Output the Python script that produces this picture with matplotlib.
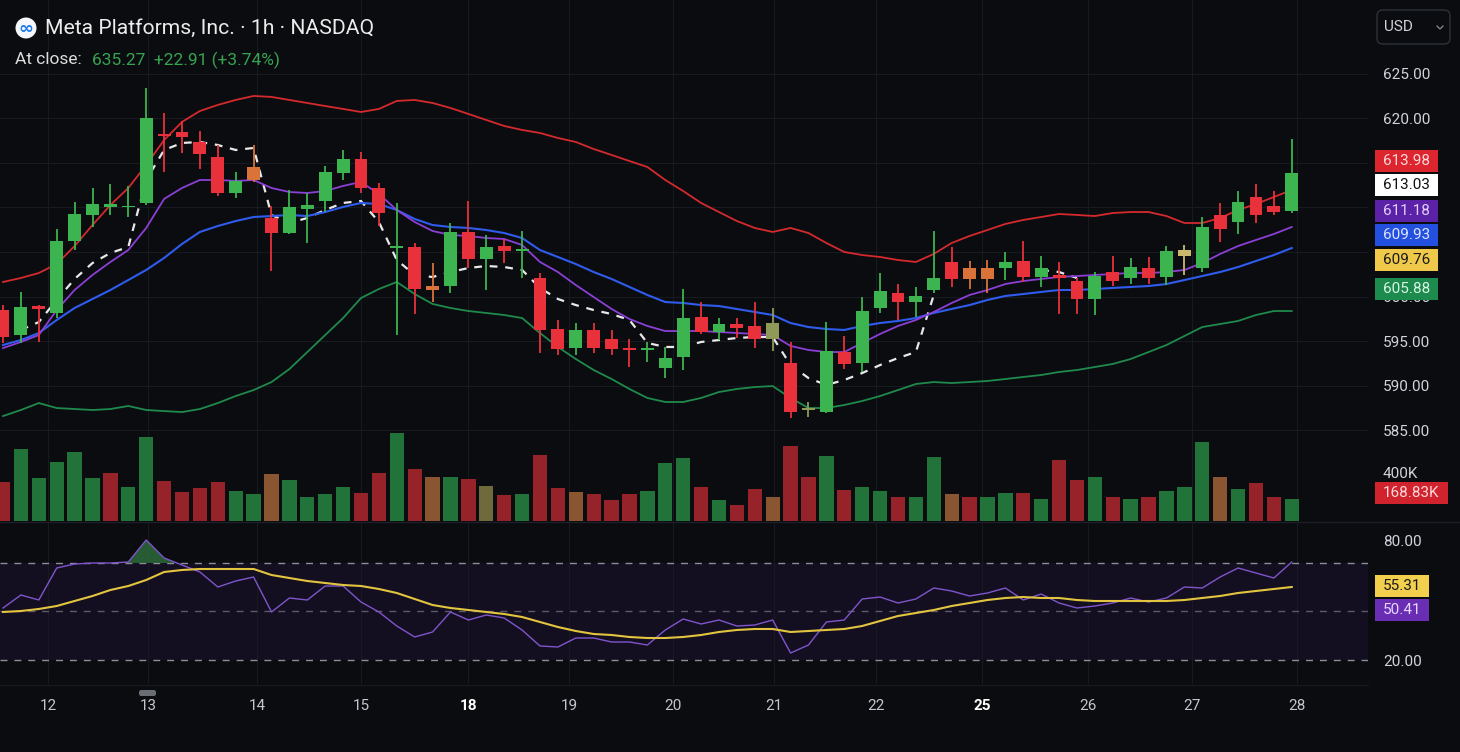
import numpy as np
import matplotlib
matplotlib.use("Agg")
import matplotlib.pyplot as plt
from matplotlib.patches import Rectangle, Ellipse, FancyBboxPatch
from matplotlib.lines import Line2D

plt.rcParams['font.family'] = ['Roboto', 'DejaVu Sans']

# ---------------- data ----------------
opens = [598.5, 595.7, 598.9, 598.1, 606.2, 609.2, 610.1, 610.0, 610.5, 618.3,
         618.5, 617.4, 615.7, 611.6, 614.5, 608.8, 607.1, 609.8, 610.7, 613.9,
         615.5, 612.2, 605.5, 605.6, 601.2, 601.2, 607.2, 604.2, 605.7, 605.1,
         602.1, 596.3, 594.2, 596.2, 595.2, 594.2, 594.0, 592.0, 593.2, 597.7,
         596.0, 596.9, 596.7, 595.2, 592.5, 587.3, 587.0, 593.8, 592.5, 598.7,
         600.4, 599.4, 600.7, 603.9, 603.2, 603.2, 603.2, 604.0, 602.2, 602.4,
         601.7, 599.7, 602.8, 602.1, 603.2, 602.2, 604.6, 603.2, 609.2, 608.4,
         611.2, 610.2, 609.6]
highs = [599.0, 600.5, 599.0, 607.6, 610.6, 612.2, 612.6, 612.4, 623.4, 620.6,
         619.7, 618.6, 617.0, 614.0, 617.0, 610.2, 612.0, 611.6, 614.7, 616.5,
         616.2, 612.8, 610.5, 606.0, 603.8, 608.3, 610.7, 606.9, 606.5, 607.4,
         602.6, 597.4, 597.0, 597.0, 596.2, 595.2, 594.9, 594.3, 600.8, 599.4,
         597.6, 597.6, 599.4, 598.7, 594.9, 588.1, 597.1, 595.6, 600.0, 602.6,
         601.4, 601.1, 607.4, 605.6, 604.0, 604.1, 605.0, 606.2, 604.6, 603.9,
         602.1, 602.8, 604.6, 604.3, 604.4, 605.7, 605.8, 608.9, 610.5, 611.9,
         612.6, 611.9, 617.7]
lows = [594.8, 594.8, 594.9, 597.6, 605.2, 607.8, 609.2, 608.9, 610.3, 614.0,
        616.1, 614.3, 611.3, 611.1, 612.9, 602.9, 607.0, 606.0, 609.5, 613.1,
        611.6, 607.9, 595.7, 598.0, 599.4, 600.4, 603.2, 600.7, 603.8, 602.1,
        593.6, 593.4, 593.4, 593.7, 593.4, 592.1, 592.6, 590.8, 591.7, 595.8,
        595.1, 595.3, 594.2, 593.9, 586.3, 586.5, 586.9, 591.8, 591.5, 598.1,
        597.4, 597.7, 600.4, 601.1, 600.8, 600.4, 601.9, 601.6, 601.1, 598.0,
        598.0, 597.9, 601.2, 601.4, 601.4, 601.3, 602.4, 602.8, 606.1, 607.0,
        608.3, 609.2, 609.4]
closes = [595.5, 598.8, 598.6, 606.2, 609.3, 610.4, 610.4, 610.1, 620.1, 618.0,
          617.9, 616.0, 611.6, 613.0, 613.1, 607.1, 610.0, 610.3, 614.0, 615.5,
          612.2, 609.4, 605.7, 600.8, 600.7, 607.2, 604.2, 605.6, 605.1, 605.3,
          596.2, 594.1, 596.2, 594.2, 594.1, 594.0, 594.2, 593.1, 597.6, 596.0,
          596.9, 596.5, 595.2, 597.0, 587.0, 587.5, 593.9, 592.4, 598.4, 600.6,
          599.4, 600.1, 602.1, 602.0, 602.0, 602.0, 603.9, 602.2, 603.2, 602.1,
          599.7, 602.3, 601.7, 603.3, 602.1, 605.1, 605.2, 607.8, 607.6, 610.6,
          609.2, 609.5, 613.9]
candle_kind = list("rgrggggggr" "rrrgorgggg" "rrgrogrgrg" "rrgrrrgggr" "grryrygrgg"
                   "rggroogrgr" "rgrgrgtgrg" "rrg")

volumes_k = [323, 604, 357, 493, 578, 357, 400, 281, 697, 332,
             238, 272, 323, 247, 221, 391, 340, 196, 221, 281,
             230, 400, 731, 434, 366, 366, 349, 289, 213, 221,
             553, 272, 238, 221, 179, 221, 247, 485, 527, 281,
             179, 136, 264, 196, 629, 366, 544, 255, 281, 247,
             196, 204, 536, 221, 196, 204, 230, 230, 187, 510,
             340, 366, 204, 187, 204, 247, 281, 655, 366, 264,
             315, 204, 187]
volume_kind = list("rgggggrggr" "rrrggogggg" "rrgrogryrg" "rrorrrgggr" "grrorrgrgg"
                   "rggorggrgr" "rgrgrgggog" "rrg")

bb_upper = [601.63, 602.08, 602.64, 603.65, 605.67, 608.03, 610.28, 612.19, 614.78, 617.58,
            619.61, 620.84, 621.52, 622.08, 622.53, 622.42, 622.08, 621.74, 621.40, 621.07,
            620.73, 621.07, 621.97, 622.08, 621.74, 621.18, 620.51, 619.83, 619.16, 618.71,
            618.37, 617.81, 617.36, 616.57, 615.90, 615.22, 614.55, 613.09, 611.85, 610.51,
            609.49, 608.48, 607.70, 607.25, 607.70, 607.13, 606.01, 605.00, 604.66, 604.44,
            604.10, 603.88, 604.78, 606.01, 606.80, 607.47, 608.15, 608.60, 608.93, 609.27,
            609.16, 609.04, 609.38, 609.49, 609.49, 609.04, 608.26, 608.26, 608.82, 609.72,
            610.39, 611.18, 611.97]
bb_lower = [586.57, 587.25, 588.03, 587.47, 587.36, 587.25, 587.36, 587.70, 587.25, 587.13,
            587.02, 587.36, 588.03, 588.82, 589.49, 590.39, 591.85, 593.76, 595.67, 597.58,
            599.83, 600.84, 601.63, 600.28, 599.16, 598.71, 598.37, 598.15, 597.92, 597.58,
            595.90, 594.33, 592.98, 591.74, 590.73, 589.61, 588.60, 588.15, 588.15, 588.60,
            589.27, 589.61, 589.83, 589.94, 588.60, 587.47, 587.47, 587.81, 588.26, 588.82,
            589.49, 590.17, 590.39, 590.28, 590.39, 590.51, 590.73, 590.96, 591.18, 591.52,
            591.74, 592.08, 592.42, 592.98, 593.76, 594.55, 595.56, 596.57, 596.91, 597.25,
            597.92, 598.37, 598.37]
ma_blue = [594.55, 595.11, 595.90, 597.36, 598.71, 599.72, 600.73, 601.85, 602.98, 604.33,
           605.90, 607.25, 607.92, 608.48, 608.93, 609.04, 609.16, 609.04, 609.49, 610.06,
           610.51, 610.39, 609.72, 608.71, 608.03, 607.81, 607.70, 607.47, 607.13, 606.57,
           605.22, 604.44, 603.65, 602.75, 601.97, 601.07, 600.17, 599.38, 599.27, 599.04,
           598.93, 598.60, 598.26, 597.92, 597.02, 596.57, 596.35, 596.24, 596.69, 597.02,
           597.25, 597.58, 598.15, 598.60, 599.04, 599.61, 600.06, 600.28, 600.51, 600.73,
           600.73, 600.84, 600.96, 601.07, 601.18, 601.40, 601.85, 602.30, 602.75, 603.31,
           603.99, 604.66, 605.45]
ma_purple = [594.21, 594.89, 595.67, 598.48, 600.73, 602.42, 603.88, 605.22, 607.70, 610.96,
             612.19, 613.09, 613.09, 612.98, 613.09, 612.19, 611.74, 611.63, 611.85, 612.42,
             612.87, 611.52, 609.72, 608.37, 607.36, 606.91, 606.80, 606.57, 606.46, 605.79,
             603.88, 602.75, 601.29, 599.94, 598.60, 597.47, 596.69, 596.12, 596.12, 596.12,
             596.01, 595.90, 595.79, 595.67, 594.44, 593.99, 593.76, 593.76, 594.78, 595.79,
             596.69, 597.36, 598.26, 599.27, 600.17, 600.73, 601.40, 601.74, 601.97, 602.19,
             602.30, 602.42, 602.53, 602.64, 602.64, 602.75, 602.98, 603.76, 604.78, 605.67,
             606.35, 607.02, 607.81]
nan = float('nan')
white_dashed = [nan, 596.24, 597.13, 599.61, 601.97, 603.76, 604.89, 605.56, 613.09, 616.46,
                617.25, 617.36, 617.02, 616.46, 616.69, 609.16, 608.26, 608.82, 609.72, 610.51,
                610.73, 608.37, 604.10, 602.42, 602.19, 602.75, 603.20, 603.43, 603.31, 602.98,
                600.96, 599.72, 599.04, 598.48, 598.03, 597.36, 594.78, 594.33, 594.33, 594.89,
                595.11, 595.34, 595.45, 595.45, 592.30, 590.84, 590.06, 590.62, 591.40, 592.30,
                593.09, 593.76, 600.17, nan, nan, nan, nan, nan, 602.98, 602.75,
                602.08, nan, nan, nan, nan, nan, nan, nan, nan, nan,
                nan, nan, nan]

rsi = [46.5, 53.0, 50.5, 66.5, 68.5, 69.0, 69.0, 69.5, 80.5, 71.5,
       68.0, 64.5, 57.0, 60.0, 62.0, 44.5, 51.5, 50.5, 57.5, 57.5,
       49.5, 44.5, 37.5, 32.0, 34.5, 44.5, 40.5, 43.0, 41.5, 35.5,
       27.5, 27.0, 31.5, 31.5, 29.5, 29.5, 28.0, 35.5, 41.0, 38.5,
       40.5, 37.5, 38.0, 40.5, 24.0, 28.0, 39.5, 40.5, 51.0, 52.0,
       49.0, 51.0, 56.5, 55.0, 52.5, 54.0, 56.5, 50.5, 53.5, 49.0,
       46.5, 47.5, 49.0, 51.5, 49.5, 51.5, 57.0, 56.5, 62.0, 66.5,
       64.0, 61.5, 69.5]
rsi_ma = [44.5, 45.0, 46.0, 47.5, 50.0, 52.5, 55.5, 57.5, 60.5, 64.5,
          65.5, 66.0, 66.0, 66.0, 66.0, 63.0, 61.5, 60.0, 59.0, 58.0,
          57.5, 56.0, 54.0, 51.0, 48.0, 46.5, 45.5, 44.5, 43.5, 42.0,
          39.5, 37.0, 35.0, 33.5, 33.0, 32.0, 31.5, 31.5, 32.0, 33.0,
          34.5, 35.5, 36.0, 36.0, 34.5, 35.0, 35.5, 36.0, 37.5, 40.0,
          42.5, 44.0, 45.5, 47.5, 49.0, 50.5, 51.5, 52.0, 51.5, 51.5,
          50.5, 50.0, 50.0, 50.0, 50.0, 50.0, 50.5, 51.5, 52.5, 54.0,
          55.0, 56.0, 57.0]
rsi_levels = [69.0, 45.0, 20.5]

day_labels = ["12", "13", "14", "15", "18", "19", "20", "21", "22", "25", "26", "27", "28"]
day_label_pos = [2.51, 8.10, 14.19, 20.0, 25.98, 31.62, 37.43, 43.07, 48.77, 54.69, 60.61, 66.42, 72.29]
bold_days = {"18", "25"}
price_grid = [585, 590, 595, 600, 605, 610, 615, 620, 625]
price_labelled = [585, 590, 595, 600, 620, 625]

# ---------------- style ----------------
W, H = 1460, 752
BG = '#0b0c10'
GRID = '#171a20'
TXT = '#d1d4dc'
CANDLE_C = {'g': '#3cb44f', 'r': '#e8313b', 'o': '#d9733a', 'y': '#8f9a58', 't': '#cbb86c'}
VOL_C = {'g': '#22733a', 'r': '#952329', 'o': '#8a5632', 'y': '#6e6a3c'}


def fx(px):
    return px / W


def fy(py):
    return 1 - py / H


fig = plt.figure(figsize=(W / 100, H / 100), dpi=100, facecolor=BG)
price_rect = [0, fy(521), 1368 / W, 521 / H]
rsi_rect = [0, fy(684), 1368 / W, (684 - 522) / H]

axv = fig.add_axes(price_rect)
ax = fig.add_axes(price_rect)
axr = fig.add_axes(rsi_rect)
axv.set_facecolor(BG)
ax.set_facecolor('none')
axr.set_facecolor(BG)

N = len(closes)
x = np.arange(N)
xlim = (-0.168, 76.26)
for a in (axv, ax, axr):
    a.set_xlim(*xlim)
    for s in a.spines.values():
        s.set_visible(False)

# volume
axv.bar(x, volumes_k, width=0.8, color=[VOL_C[k] for k in volume_kind], lw=0, zorder=2)
axv.set_ylim(0, 400 * 521 / 48)
axv.yaxis.tick_right()
axv.set_yticks([400])
axv.set_yticklabels(["400K"])
axv.tick_params(axis='y', length=0, pad=10.8, labelsize=11, labelcolor=TXT)
axv.set_xticks([])
for t in day_label_pos:
    axv.axvline(t, color=GRID, lw=0.8, zorder=0)

# price
ax.set_ylim(574.78, 633.31)
for p in price_grid:
    ax.axhline(p, color=GRID, lw=0.8, zorder=0)
ax.plot(x, white_dashed, color='#e8e8e8', lw=1.6, ls=(0, (3.5, 3.5)), zorder=3)
ax.plot(x, bb_upper, color='#d42a2e', lw=1.3, zorder=4)
ax.plot(x, bb_lower, color='#1f8a4c', lw=1.3, zorder=4)
ax.plot(x, ma_blue, color='#2f5ced', lw=1.5, zorder=4)
ax.plot(x, ma_purple, color='#8b3fd6', lw=1.3, zorder=4)

o = np.array(opens)
c = np.array(closes)
cols = [CANDLE_C[k] for k in candle_kind]
ax.vlines(x, lows, highs, colors=cols, lw=1.3, zorder=5)
ax.bar(x, np.maximum(np.abs(c - o), 0.2), bottom=np.minimum(o, c), width=0.72,
       color=cols, lw=0, zorder=6)

ax.yaxis.tick_right()
ax.set_yticks(price_labelled)
ax.set_yticklabels([f"{p:.2f}" for p in price_labelled])
ax.tick_params(axis='y', length=0, pad=10.8, labelsize=11, labelcolor=TXT)
ax.set_xticks([])

# RSI
r = np.array(rsi)
axr.set_ylim(8.5, 89.5)
axr.axhspan(rsi_levels[2], rsi_levels[0], color='#130f20', lw=0, zorder=0)
for t in day_label_pos:
    axr.axvline(t, color=GRID, lw=0.8, zorder=1)
axr.axhline(rsi_levels[0], color='#8d8d99', lw=1.0, ls=(0, (5, 5)), zorder=2)
axr.axhline(rsi_levels[1], color='#5c5a68', lw=1.0, ls=(0, (5, 5)), zorder=2)
axr.axhline(rsi_levels[2], color='#8d8d99', lw=1.0, ls=(0, (5, 5)), zorder=2)
axr.fill_between(x, rsi_levels[0], r, where=r >= rsi_levels[0], interpolate=True,
                 color='#2d6a3a', alpha=0.85, lw=0, zorder=2)
axr.plot(x, rsi, color='#7f55cc', lw=1.0, zorder=3)
axr.plot(x, rsi_ma, color='#e3c43f', lw=1.5, zorder=4)
axr.yaxis.tick_right()
axr.set_yticks([80, 20])
axr.set_yticklabels(["80.00", "20.00"])
axr.tick_params(axis='y', length=0, pad=10.8, labelsize=11, labelcolor=TXT)
axr.set_xticks(day_label_pos)
axr.set_xticklabels(day_labels)
axr.tick_params(axis='x', length=0, pad=11, labelsize=11, labelcolor='#c3c6ce')
for lab in axr.get_xticklabels():
    if lab.get_text() in bold_days:
        lab.set_fontweight('bold')
        lab.set_color('#ffffff')

# pane separators
fig.add_artist(Line2D([0, 1], [fy(522), fy(522)], transform=fig.transFigure, color='#1c1f26', lw=1))
fig.add_artist(Line2D([0, 1368 / W], [fy(685), fy(685)], transform=fig.transFigure, color='#15181e', lw=1))


# right-hand value tags
def tag(yc, text, face, tc, x0=1375, w=63, h=22):
    fig.add_artist(Rectangle((fx(x0), fy(yc + h / 2)), w / W, h / H, transform=fig.transFigure,
                             facecolor=face, edgecolor='none', zorder=5))
    fig.text(fx(x0 + w / 2), fy(yc), text, color=tc, fontsize=11, ha='center', va='center', zorder=6)


tag(161, "613.98", '#dc252e', '#ffd9d9')
tag(185, "613.03", '#ffffff', '#111111')
tag(211, "611.18", '#5b21a6', '#e2d0ff')
tag(235, "609.93", '#2450e0', '#dce4ff')
tag(260, "609.76", '#f0c94a', '#1a1a1a')
tag(289, "605.88", '#1d8a4e', '#d6f5e2')
tag(493, "168.83K", '#d0232d', '#ffd9d9', w=73)
tag(586, "55.31", '#f2cf4c', '#1a1a1a', w=54)
tag(610, "50.41", '#6a2eb5', '#e6d8ff', w=54)

# header
fig.add_artist(Ellipse((fx(26), fy(28)), 21 / W, 21 / H, transform=fig.transFigure,
                       facecolor='#f4f6fa', edgecolor='none', zorder=5))
fig.text(fx(26), fy(28.5), "\u221e", color='#1877f2', fontsize=13, fontweight='bold',
         ha='center', va='center', family=['DejaVu Sans'], zorder=6)
fig.text(fx(45), fy(28), "Meta Platforms, Inc. \u00b7 1h \u00b7 NASDAQ", color='#ececec',
         fontsize=15.2, ha='left', va='center')
fig.text(fx(15), fy(60), "At close:", color='#dcdcdc', fontsize=12.5, ha='left', va='center')
fig.text(fx(92), fy(60), "635.27  +22.91 (+3.74%)", color='#35a450', fontsize=12.5,
         ha='left', va='center')

# currency box
fig.add_artist(FancyBboxPatch((fx(1377), fy(44)), 73 / W, 34 / H, transform=fig.transFigure,
                              boxstyle="round,pad=0,rounding_size=0.004", mutation_aspect=W / H,
                              facecolor=BG, edgecolor='#2c3039', lw=1.0, zorder=5))
fig.text(fx(1384), fy(27), "USD", color=TXT, fontsize=11, ha='left', va='center', zorder=6)
fig.add_artist(Line2D([fx(1437), fx(1440), fx(1443)], [fy(26), fy(29), fy(26)],
                      transform=fig.transFigure, color='#8a8d96', lw=0.9, zorder=6))

# small marker under the time axis
fig.add_artist(FancyBboxPatch((fx(139), fy(696)), 17 / W, 6 / H, transform=fig.transFigure,
                              boxstyle="round,pad=0,rounding_size=0.0015", mutation_aspect=W / H,
                              facecolor='#6a6d74', edgecolor='none', zorder=5))

fig.savefig("out.png", dpi=100, facecolor=BG)
